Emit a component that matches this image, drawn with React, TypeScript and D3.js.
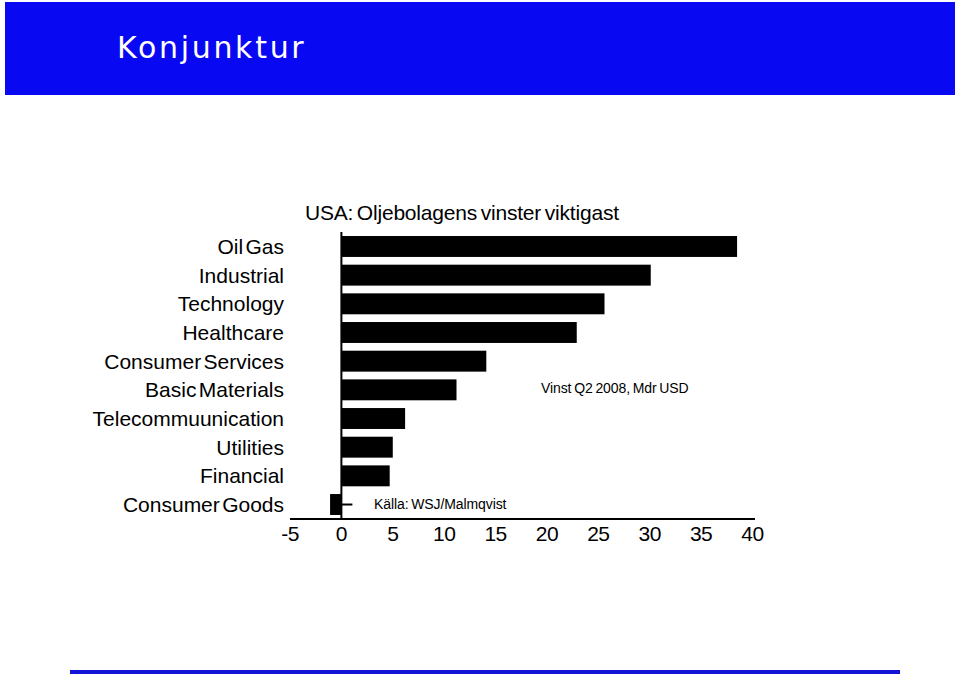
import React from "react";
import * as d3 from "d3";

const categories = [
  "Oil Gas",
  "Industrial",
  "Technology",
  "Healthcare",
  "Consumer Services",
  "Basic Materials",
  "Telecommuunication",
  "Utilities",
  "Financial",
  "Consumer Goods",
];
const values = [38.5, 30.1, 25.6, 22.9, 14.1, 11.2, 6.2, 5.0, 4.7, -1.1];
const tickValues = [-5, 0, 5, 10, 15, 20, 25, 30, 35, 40];

const W = 960;
const H = 676;
const font = "'Liberation Sans', Arial, Helvetica, sans-serif";

export default function App() {
  const x = d3.scaleLinear().domain([-5, 40]).range([290, 752.5]);
  const y = d3.scaleBand().domain(categories).range([232, 519]).paddingInner(0.27).paddingOuter(0.14);
  const x0 = x(0);

  return (
    <svg
      width={W}
      height={H}
      style={{ position: "absolute", left: 0, top: 0, background: "#fff" }}
    >
      <rect x={5} y={2} width={950} height={93} fill="#0808F2" />
      <text
        x={117}
        y={58}
        fill="#fff"
        fontFamily="'DejaVu Sans', Verdana, sans-serif"
        fontSize={30}
        letterSpacing={2.7}
      >
        Konjunktur
      </text>

      <text
        x={305}
        y={220}
        fontFamily={font}
        fontSize={21}
        letterSpacing={-0.2}
        wordSpacing={-2}
        fill="#000"
      >
        USA: Oljebolagens vinster viktigast
      </text>

      {categories.map((c, i) => {
        const v = values[i];
        const bx = Math.min(x(v), x0);
        const bw = Math.abs(x(v) - x0);
        return (
          <g key={c}>
            <rect x={bx} y={y(c)} width={bw} height={y.bandwidth()} fill="#000" />
            <text
              x={284}
              y={(y(c) as number) + y.bandwidth() / 2 + 7.5}
              textAnchor="end"
              fontFamily={font}
              fontSize={21}
              letterSpacing={0}
              wordSpacing={-3.5}
              fill="#000"
            >
              {c}
            </text>
          </g>
        );
      })}

      {/* vertical axis */}
      <line x1={x0} x2={x0} y1={232} y2={519} stroke="#000" strokeWidth={2} />
      <line
        x1={x0}
        x2={x0 + 11}
        y1={(y("Consumer Goods") as number) + y.bandwidth() / 2}
        y2={(y("Consumer Goods") as number) + y.bandwidth() / 2}
        stroke="#000"
        strokeWidth={2}
      />
      {/* horizontal axis */}
      <line x1={290} x2={755} y1={519} y2={519} stroke="#000" strokeWidth={2} />
      {tickValues.map((t) => (
        <text
          key={t}
          x={x(t)}
          y={541}
          textAnchor="middle"
          fontFamily={font}
          fontSize={21}
          letterSpacing={-0.5}
          fill="#000"
        >
          {t}
        </text>
      ))}

      <text
        x={541}
        y={393}
        fontFamily={font}
        fontSize={14}
        letterSpacing={-0.1}
        wordSpacing={-1}
        fill="#000"
      >
        Vinst Q2 2008, Mdr USD
      </text>
      <text
        x={374}
        y={509}
        fontFamily={font}
        fontSize={14}
        letterSpacing={-0.1}
        wordSpacing={-1}
        fill="#000"
      >
        Källa: WSJ/Malmqvist
      </text>

      <rect x={70} y={670} width={830} height={4} fill="#1414D8" />
    </svg>
  );
}
